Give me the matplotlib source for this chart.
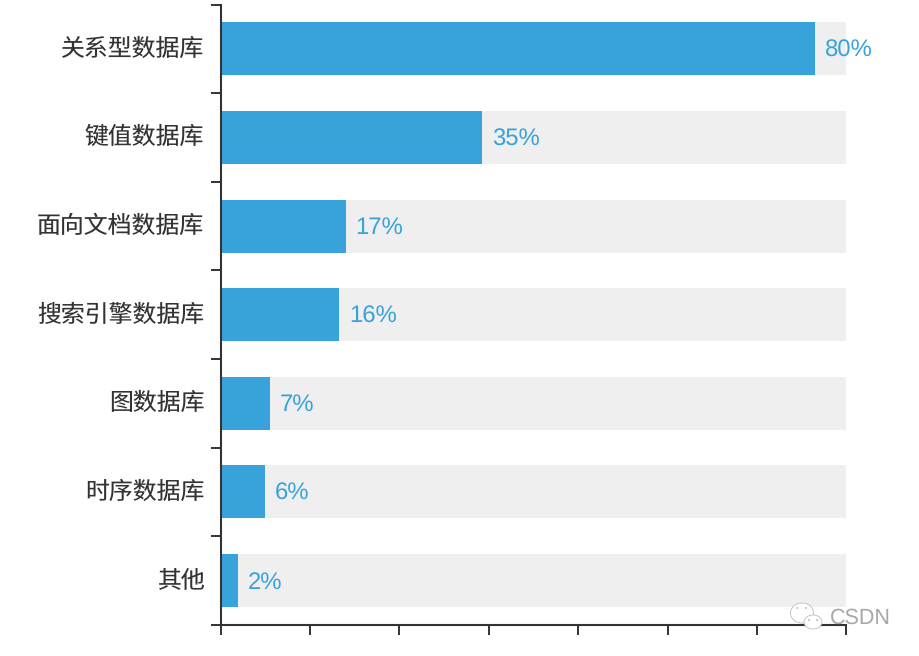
#!/usr/bin/env python3
# -*- coding: utf-8 -*-

import numpy as np
import matplotlib
matplotlib.use('Agg')
import matplotlib.pyplot as plt
from matplotlib.patches import Ellipse
from matplotlib.transforms import ScaledTranslation

plt.rcParams['font.family'] = ['Noto Sans CJK SC', 'DejaVu Sans']
plt.rcParams['text.hinting'] = 'none'

categories = ['关系型数据库', '键值数据库', '面向文档数据库', '搜索引擎数据库', '图数据库', '时序数据库', '其他']
values = [79.8, 35.1, 16.8, 15.9, 6.6, 6, 2.3]
value_labels = ['80%', '35%', '17%', '16%', '7%', '6%', '2%']
background = [84] * 7
xticks = [0, 12, 24, 36, 48, 60, 72, 84]

W, H = 920, 656
fig = plt.figure(figsize=(W/100, H/100), dpi=100)
ax = fig.add_axes([220.7/W, 1-624.8/H, 625.6/W, 620.2/H])

y = np.arange(len(categories))
ax.barh(y, background, height=0.6, color='#efefef', zorder=1)
ax.barh(y, values, height=0.6, color='#38a2db', zorder=2, clip_on=False)
for i in range(len(values)):
    ax.annotate(value_labels[i], (values[i], y[i]), xytext=(7, -1.2), textcoords='offset points',
                va='center', ha='left', fontsize=17.2, color='#38a2db',
                family=['Liberation Sans'], zorder=3, annotation_clip=False)

ax.set_xlim(0, 84)
ax.set_ylim(6.5, -0.5)
ax.set_xticks(xticks)
ax.set_xticklabels([])
ax.set_yticks(np.arange(-0.5, 7, 1))
ax.set_yticklabels([])
ax.set_yticks(y, categories, minor=True)
ax.tick_params(axis='y', which='minor', length=0, pad=11.8, labelsize=17.2, labelcolor='#333333')
ax.tick_params(axis='both', which='major', length=7.5, width=1.4, color='#333333')
# category labels sit a little above the band centre
shift = ScaledTranslation(0, 2/72, fig.dpi_scale_trans)
for lab in ax.get_yticklabels(minor=True):
    lab.set_transform(lab.get_transform() + shift)
for s in ['top', 'right']:
    ax.spines[s].set_visible(False)
for s in ['left', 'bottom']:
    ax.spines[s].set_linewidth(1.5)
    ax.spines[s].set_color('#333333')
ax.spines['left'].set_zorder(4)

# watermark
for (cx, cy, w, h) in [(802, 613, 23, 20), (813, 622, 18, 14)]:
    fig.add_artist(Ellipse((cx/W, 1-cy/H), w/W, h/H, facecolor='white',
                           edgecolor='#bbbbbb', linewidth=0.6))
for (cx, cy) in [(797, 608), (806, 608), (809, 620), (817, 620)]:
    fig.add_artist(Ellipse((cx/W, 1-cy/H), 2/W, 2/H, facecolor='#bbbbbb', edgecolor='none'))
fig.text(830/W, 1-618/H, 'CSDN', fontsize=15.5, color='#a8a8a8', va='center', ha='left',
         family=['Liberation Sans'])

fig.savefig('out.png', dpi=100)
